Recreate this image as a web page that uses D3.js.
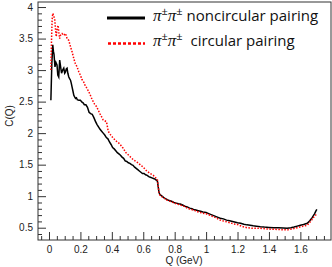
<!DOCTYPE html>
<html>
<head>
<meta charset="utf-8">
<script src="https://cdn.jsdelivr.net/npm/d3@7"></script>
<style>
  body { margin: 0; background: #fff; }
  #chart { width: 332px; height: 267px; }
  .axis text { font-family: "Liberation Sans", Arial, sans-serif; font-size: 10px; fill: #222; }
  .axis line { stroke: #333; }
  .title { font-family: "Liberation Sans", Arial, sans-serif; font-size: 10px; fill: #222; }
  .leg { font-family: "Open Sans", sans-serif; font-size: 15px; fill: #111; }
  .pi { font-family: "Liberation Serif", serif; font-style: italic; }
</style>
</head>
<body>
<div id="chart"></div>
<script>
// noncircular pairing (black)
var qBlack = [0.012, 0.018, 0.024, 0.028, 0.032, 0.038, 0.044, 0.051, 0.056, 0.062, 0.068, 0.074, 0.080,
  0.087, 0.094, 0.100, 0.105, 0.110, 0.115, 0.120, 0.126, 0.132, 0.137, 0.142, 0.147, 0.153, 0.158,
  0.164, 0.169, 0.175, 0.180, 0.190, 0.200, 0.210, 0.217, 0.225, 0.235, 0.245, 0.255, 0.265, 0.275,
  0.285, 0.295, 0.305, 0.315, 0.325, 0.335, 0.345, 0.355, 0.365, 0.375, 0.385, 0.395, 0.405, 0.415,
  0.425, 0.435, 0.445, 0.455, 0.465, 0.475, 0.485, 0.495, 0.505, 0.515, 0.525, 0.535, 0.545, 0.555,
  0.565, 0.575, 0.585, 0.595, 0.605, 0.615, 0.625, 0.635, 0.645, 0.655, 0.665, 0.675, 0.685, 0.690,
  0.695, 0.700, 0.705, 0.715, 0.725, 0.735, 0.750, 0.765, 0.780, 0.795, 0.810, 0.825, 0.835, 0.850,
  0.865, 0.880, 0.895, 0.910, 0.920, 0.935, 0.950, 0.965, 0.980, 1.000, 1.020, 1.040, 1.060, 1.080,
  1.090, 1.110, 1.130, 1.150, 1.175, 1.200, 1.220, 1.240, 1.260, 1.280, 1.300, 1.320, 1.345, 1.370,
  1.400, 1.430, 1.460, 1.490, 1.516, 1.540, 1.560, 1.580, 1.600, 1.620, 1.644, 1.660, 1.675, 1.690,
  1.700, 1.705];
var cBlack = [2.52, 3.10, 3.40, 3.30, 3.25, 3.05, 3.12, 3.08, 2.92, 2.89, 3.16, 3.05, 2.95,
  3.00, 3.03, 2.95, 2.97, 3.02, 3.03, 2.95, 2.89, 2.86, 2.84, 2.79, 2.73, 2.66, 2.60,
  2.57, 2.55, 2.56, 2.53, 2.52, 2.52, 2.49, 2.48, 2.45, 2.45, 2.41, 2.33, 2.31, 2.30,
  2.25, 2.19, 2.14, 2.10, 2.06, 2.03, 2.00, 1.97, 1.93, 1.91, 1.86, 1.82, 1.77, 1.75,
  1.72, 1.69, 1.67, 1.65, 1.62, 1.60, 1.56, 1.55, 1.53, 1.52, 1.50, 1.49, 1.46, 1.44,
  1.42, 1.40, 1.38, 1.36, 1.36, 1.34, 1.33, 1.31, 1.30, 1.29, 1.28, 1.27, 1.25, 1.24,
  1.15, 1.06, 1.03, 1.01, 0.99, 0.97, 0.95, 0.93, 0.92, 0.90, 0.89, 0.88, 0.876, 0.86,
  0.84, 0.83, 0.81, 0.80, 0.79, 0.78, 0.77, 0.76, 0.75, 0.74, 0.72, 0.70, 0.68, 0.66,
  0.65, 0.64, 0.62, 0.61, 0.595, 0.58, 0.57, 0.555, 0.545, 0.54, 0.53, 0.525, 0.516, 0.51,
  0.505, 0.50, 0.50, 0.495, 0.49, 0.50, 0.51, 0.525, 0.54, 0.55, 0.57, 0.61, 0.66, 0.72,
  0.77, 0.79];

// circular pairing (red)
var qRed = [0.012, 0.016, 0.020, 0.024, 0.030, 0.037, 0.042, 0.046, 0.052, 0.058, 0.062, 0.068, 0.072,
  0.083, 0.094, 0.105, 0.115, 0.126, 0.137, 0.147, 0.158, 0.168, 0.179, 0.190, 0.200, 0.210,
  0.221, 0.231, 0.242, 0.252, 0.260, 0.275, 0.290, 0.303, 0.324, 0.345, 0.366, 0.377, 0.390,
  0.409, 0.430, 0.450, 0.472, 0.490, 0.515, 0.536, 0.560, 0.580, 0.600, 0.622, 0.644, 0.664,
  0.680, 0.690, 0.695, 0.700, 0.705, 0.720, 0.750, 0.780, 0.810, 0.835, 0.860, 0.890, 0.920,
  0.950, 0.980, 1.005, 1.030, 1.060, 1.090, 1.120, 1.150, 1.175, 1.200, 1.230, 1.260, 1.300,
  1.345, 1.390, 1.430, 1.470, 1.516, 1.550, 1.580, 1.610, 1.644, 1.665, 1.686, 1.705];
var cRed = [3.00, 3.47, 3.80, 3.90, 3.87, 3.79, 3.63, 3.53, 3.66, 3.71, 3.61, 3.50, 3.55,
  3.58, 3.55, 3.58, 3.50, 3.47, 3.37, 3.29, 3.18, 3.10, 3.05, 2.97, 2.92, 2.85,
  2.81, 2.75, 2.71, 2.66, 2.62, 2.53, 2.46, 2.42, 2.31, 2.21, 2.18, 2.03, 1.98,
  1.92, 1.87, 1.83, 1.76, 1.69, 1.63, 1.58, 1.54, 1.50, 1.46, 1.40, 1.36, 1.33,
  1.29, 1.26, 1.16, 1.06, 1.02, 0.99, 0.94, 0.91, 0.88, 0.86, 0.84, 0.80, 0.78,
  0.75, 0.73, 0.717, 0.69, 0.66, 0.62, 0.60, 0.58, 0.56, 0.55, 0.52, 0.50, 0.49,
  0.49, 0.48, 0.475, 0.47, 0.465, 0.48, 0.50, 0.52, 0.54, 0.60, 0.67, 0.72];

var xMajor = [0, 0.2, 0.4, 0.6, 0.8, 1, 1.2, 1.4, 1.6];
var xLabels = ["0", "0.2", "0.4", "0.6", "0.8", "1", "1.2", "1.4", "1.6"];
var yMajor = [0.5, 1, 1.5, 2, 2.5, 3, 3.5, 4];
var yLabels = ["0.5", "1", "1.5", "2", "2.5", "3", "3.5", "4"];

var W = 332, H = 267,
    frame = {left: 38, right: 331, top: 2, bottom: 240};

var x = d3.scaleLinear().domain([-0.07, 1.795]).range([frame.left, frame.right]),
    y = d3.scaleLinear().domain([0.305, 4.08]).range([frame.bottom, frame.top]);

var svg = d3.select("#chart").append("svg")
    .attr("width", W)
    .attr("height", H);

// minor ticks (every 0.05 on x, 0.1 on y)
var xMinor = d3.range(-0.05, 1.80, 0.05).filter(function (v) {
    return Math.abs(Math.round(v * 5) - v * 5) > 1e-6;
});
var yMinor = d3.range(0.4, 4.08, 0.1).filter(function (v) {
    return Math.abs(Math.round(v * 2) - v * 2) > 1e-6;
});

svg.append("g")
    .attr("class", "axis")
    .attr("transform", "translate(0," + frame.bottom + ")")
    .call(d3.axisBottom(x).tickValues(xMinor).tickSize(-4).tickFormat(""))
    .select(".domain").remove();

svg.append("g")
    .attr("class", "axis")
    .attr("transform", "translate(0," + frame.bottom + ")")
    .call(d3.axisBottom(x).tickValues(xMajor).tickSize(-8).tickPadding(6)
        .tickFormat(function (d, i) { return xLabels[i]; }))
    .select(".domain").remove();

svg.append("g")
    .attr("class", "axis")
    .attr("transform", "translate(" + frame.left + ",0)")
    .call(d3.axisLeft(y).tickValues(yMinor).tickSize(-4).tickFormat(""))
    .select(".domain").remove();

svg.append("g")
    .attr("class", "axis")
    .attr("transform", "translate(" + frame.left + ",0)")
    .call(d3.axisLeft(y).tickValues(yMajor).tickSize(-8).tickPadding(5)
        .tickFormat(function (d, i) { return yLabels[i]; }))
    .select(".domain").remove();

// frame
svg.append("rect")
    .attr("x", frame.left)
    .attr("y", frame.top)
    .attr("width", frame.right - frame.left)
    .attr("height", frame.bottom - frame.top)
    .attr("fill", "none")
    .attr("stroke", "#333")
    .attr("stroke-width", 1);

var line = d3.line()
    .x(function (d) { return x(d[0]); })
    .y(function (d) { return y(d[1]); });

svg.append("path")
    .datum(d3.zip(qBlack, cBlack))
    .attr("d", line)
    .attr("fill", "none")
    .attr("stroke", "#000")
    .attr("stroke-width", 1.5);

svg.append("path")
    .datum(d3.zip(qRed, cRed))
    .attr("d", line)
    .attr("fill", "none")
    .attr("stroke", "#ff0000")
    .attr("stroke-width", 1.5)
    .attr("stroke-dasharray", "1.5,1.5");

// axis titles
svg.append("text")
    .attr("class", "title")
    .attr("x", 184)
    .attr("y", 264)
    .attr("text-anchor", "middle")
    .text("Q (GeV)");

svg.append("text")
    .attr("class", "title")
    .attr("transform", "translate(13,116)rotate(-90)")
    .attr("text-anchor", "middle")
    .text("C(Q)");

// legend
var legend = svg.append("g");

legend.append("line")
    .attr("x1", 107).attr("x2", 145)
    .attr("y1", 18).attr("y2", 18)
    .attr("stroke", "#000")
    .attr("stroke-width", 3);

legend.append("line")
    .attr("x1", 108).attr("x2", 145)
    .attr("y1", 43.5).attr("y2", 43.5)
    .attr("stroke", "#ff0000")
    .attr("stroke-width", 2.5)
    .attr("stroke-dasharray", "3,2");

function legendText(yPos, label) {
    var t = legend.append("text")
        .attr("class", "leg")
        .attr("x", 153)
        .attr("y", yPos);
    t.append("tspan").attr("class", "pi").attr("font-size", 17).text("π");
    t.append("tspan").attr("font-size", 11).attr("dy", -6).text("±");
    t.append("tspan").attr("class", "pi").attr("font-size", 17).attr("dy", 6).text("π");
    t.append("tspan").attr("font-size", 11).attr("dy", -6).text("±");
    t.append("tspan").attr("dy", 6).attr("xml:space", "preserve").text(label);
}

legendText(21, " noncircular pairing");
legendText(46, "  circular pairing");
</script>
</body>
</html>
